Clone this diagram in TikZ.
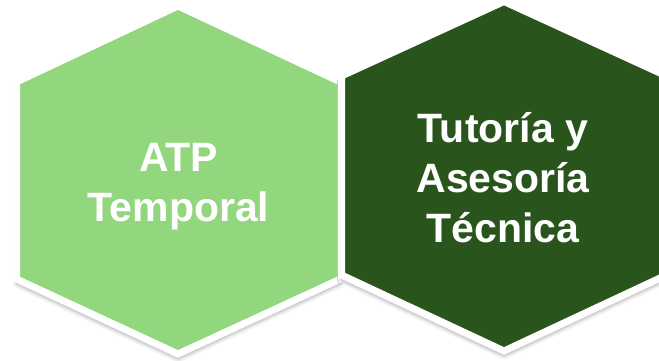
\documentclass[tikz,border=0pt]{standalone}
\usepackage{fontspec}
\setmainfont{Liberation Sans}
\usetikzlibrary{shadows.blur}
\definecolor{lightleaf}{RGB}{146,214,126}
\definecolor{darkleaf}{RGB}{41,84,27}

\begin{document}
\begin{tikzpicture}[x=1pt, y=-1pt,
    hexa/.style={draw=white, line width=7pt, line join=miter,
        blur shadow={shadow xshift=0pt, shadow yshift=-5pt, shadow blur radius=4pt, shadow opacity=35}},
    hexlabel/.style={text=white, font=\fontsize{41}{50}\selectfont\bfseries, align=center, inner sep=0pt}
]
\useasboundingbox (0,0) rectangle (659,361);
\clip (0,0) rectangle (659,361);

% Left hexagon
\draw[hexa, fill=lightleaf] (178,6) -- (340.5,82) -- (340.5,279) -- (178,354)
    -- (16.5,279) -- (16.5,82) -- cycle;
\node[hexlabel] (atp) at (178.5,187) {ATP\\Temporal};

% Right hexagon
\draw[hexa, fill=darkleaf] (504,1.5) -- (666.5,76) -- (666.5,275) -- (504,351)
    -- (341.5,275) -- (341.5,76) -- cycle;
\node[hexlabel] (tutoria) at (503,178) {Tutoría y\\Asesoría\\Técnica};

\end{tikzpicture}
\end{document}
